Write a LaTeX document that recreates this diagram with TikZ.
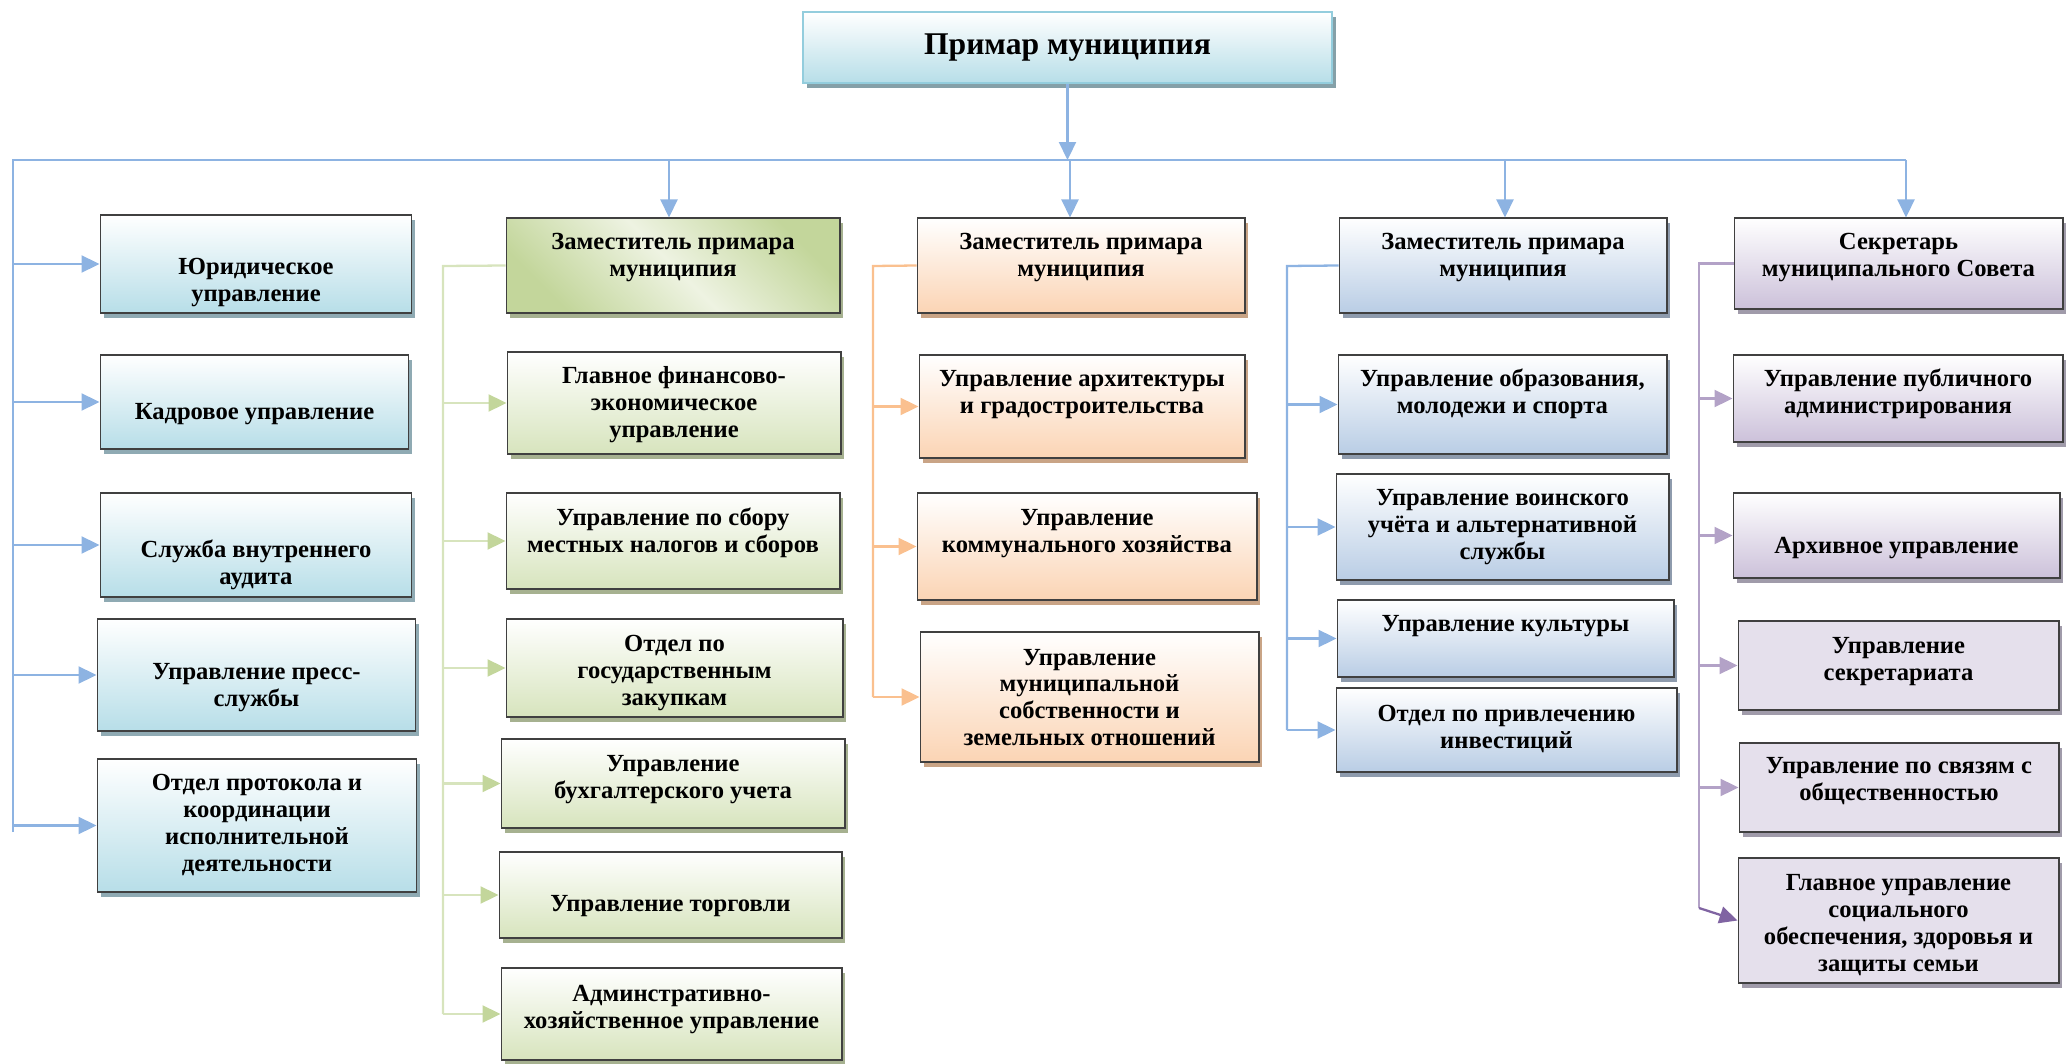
\documentclass[tikz,border=0pt]{standalone}
\usepackage{fontspec}
\setmainfont{Liberation Serif}
\usetikzlibrary{arrows.meta}
\usetikzlibrary{shadows}

\definecolor{lblue}{HTML}{B7DEE8}
\definecolor{lgreen}{HTML}{D7E4BD}
\definecolor{dgreen}{HTML}{C3D69B}
\definecolor{wgreen}{HTML}{EEF3E2}
\definecolor{lorange}{HTML}{FBD4B4}
\definecolor{lsteel}{HTML}{B9CDE5}
\definecolor{lpurple}{HTML}{CCC1DA}
\definecolor{ppurple}{HTML}{E5E0EC}
\definecolor{tealline}{HTML}{93CDDD}
\definecolor{cblue}{HTML}{8DB3E2}
\definecolor{corange}{HTML}{FAC08F}
\definecolor{cpurple}{HTML}{B3A2C7}
\definecolor{dpurple}{HTML}{8064A2}
\definecolor{sgray}{HTML}{85A0A8}
\definecolor{saqua}{HTML}{8FAAB3}
\definecolor{sgreen}{HTML}{A6B190}
\definecolor{sorange}{HTML}{C9A486}
\definecolor{ssteel}{HTML}{8E9BAD}
\definecolor{spurple}{HTML}{A09BAA}

% text of a box, lowered or raised inside it
\newcommand{\boxtext}[2]{\raisebox{#1}[\height][\depth]{\begin{tabular}{@{}c@{}}#2\end{tabular}}}

\begin{document}
\begin{tikzpicture}[
      x=0.02cm, y=-0.02cm,
      base_box/.style={draw=black!75, line width=0.6pt, inner sep=0pt, font=\fontsize{14}{15.3}\selectfont\bfseries},
      top_box/.style={draw=tealline, line width=1.5pt, inner sep=0pt, top color=white, bottom color=lblue,
        font=\fontsize{18}{21}\selectfont\bfseries,
        drop shadow={shadow xshift=0.08cm, shadow yshift=-0.1cm, fill=sgray, opacity=1}},
      aqua_box/.style={base_box, top color=white, bottom color=lblue,
        drop shadow={shadow xshift=0.07cm, shadow yshift=-0.1cm, fill=saqua, opacity=1}},
      green_head/.style={base_box, top color=dgreen, bottom color=dgreen, middle color=wgreen, shading angle=-45,
        drop shadow={shadow xshift=0.07cm, shadow yshift=-0.1cm, fill=sgreen, opacity=1}},
      green_box/.style={base_box, top color=white, bottom color=lgreen,
        drop shadow={shadow xshift=0.07cm, shadow yshift=-0.1cm, fill=sgreen, opacity=1}},
      orange_box/.style={base_box, top color=white, bottom color=lorange,
        drop shadow={shadow xshift=0.07cm, shadow yshift=-0.1cm, fill=sorange, opacity=1}},
      steel_box/.style={base_box, top color=white, bottom color=lsteel,
        drop shadow={shadow xshift=0.07cm, shadow yshift=-0.1cm, fill=ssteel, opacity=1}},
      purple_box/.style={base_box, top color=white, bottom color=lpurple,
        drop shadow={shadow xshift=0.07cm, shadow yshift=-0.1cm, fill=spurple, opacity=1}},
      lilac_box/.style={base_box, fill=ppurple,
        drop shadow={shadow xshift=0.07cm, shadow yshift=-0.1cm, fill=spurple, opacity=1}},
      blue_line/.style={cblue, line width=1.3pt},
      blue_arrow/.style={blue_line, -{Triangle[length=0.36cm, width=0.34cm]}},
      green_line/.style={lgreen, line width=1.3pt},
      green_arrow/.style={green_line, -{Triangle[length=0.36cm, width=0.34cm, color=dgreen]}},
      orange_line/.style={corange, line width=1.3pt},
      orange_arrow/.style={orange_line, -{Triangle[length=0.36cm, width=0.34cm]}},
      purple_line/.style={cpurple, line width=1.3pt},
      purple_arrow/.style={purple_line, -{Triangle[length=0.36cm, width=0.34cm]}}
    ]

    \useasboundingbox (0,0) rectangle (2067,1064);

    % ------------------------------------------------------------------ %
    % Head of the municipality
    % ------------------------------------------------------------------ %

    \node[top_box, minimum width=10.58cm, minimum height=1.42cm] (primar) at (1067.5,47.5) {\boxtext{0cm}{Примар муниципия}};

    % ------------------------------------------------------------------ %
    % Boxes
    % ------------------------------------------------------------------ %

    % directly under the head
    \node[aqua_box, minimum width=6.24cm, minimum height=1.96cm] (jur) at (256,264) {\boxtext{-0.38cm}{Юридическое\\управление}};
    \node[aqua_box, minimum width=6.18cm, minimum height=1.88cm] (kadr) at (254.5,402) {\boxtext{-0.25cm}{Кадровое управление}};
    \node[aqua_box, minimum width=6.24cm, minimum height=2.08cm] (audit) at (256,545) {\boxtext{-0.41cm}{Служба внутреннего\\аудита}};
    \node[aqua_box, minimum width=6.38cm, minimum height=2.24cm] (press) at (256.5,675) {\boxtext{-0.26cm}{Управление пресс-\\службы}};
    \node[aqua_box, minimum width=6.40cm, minimum height=2.66cm] (prot) at (257,825.5) {\boxtext{0cm}{Отдел протокола и\\координации\\исполнительной\\деятельности}};

    % first deputy
    \node[green_head, minimum width=6.68cm, minimum height=1.90cm] (dep1) at (673,265.5) {\boxtext{0.15cm}{Заместитель примара\\муниципия}};
    \node[green_box, minimum width=6.68cm, minimum height=2.04cm] (fin) at (674,403) {\boxtext{-0.05cm}{Главное финансово-\\экономическое\\управление}};
    \node[green_box, minimum width=6.68cm, minimum height=1.92cm] (tax) at (673,541) {\boxtext{0.15cm}{Управление по сбору\\местных налогов и сборов}};
    \node[green_box, minimum width=6.74cm, minimum height=1.96cm] (buy) at (674.5,668) {\boxtext{-0.11cm}{Отдел по\\государственным\\закупкам}};
    \node[green_box, minimum width=6.88cm, minimum height=1.78cm] (acc) at (673,783.5) {\boxtext{0.08cm}{Управление\\бухгалтерского учета}};
    \node[green_box, minimum width=6.86cm, minimum height=1.72cm] (trade) at (670.5,895) {\boxtext{-0.23cm}{Управление торговли}};
    \node[green_box, minimum width=6.82cm, minimum height=1.84cm] (adm) at (671.5,1014) {\boxtext{0.08cm}{Админстративно-\\хозяйственное управление}};

    % second deputy
    \node[orange_box, minimum width=6.56cm, minimum height=1.90cm] (dep2) at (1081,265.5) {\boxtext{0.15cm}{Заместитель примара\\муниципия}};
    \node[orange_box, minimum width=6.52cm, minimum height=2.06cm] (arch) at (1082,406.5) {\boxtext{0.23cm}{Управление архитектуры\\и градостроительства}};
    \node[orange_box, minimum width=6.80cm, minimum height=2.14cm] (comm) at (1087,546.5) {\boxtext{0.26cm}{Управление\\коммунального хозяйства}};
    \node[orange_box, minimum width=6.78cm, minimum height=2.60cm] (prop) at (1089.5,697) {\boxtext{-0.06cm}{Управление\\муниципальной\\собственности и\\земельных отношений}};

    % third deputy
    \node[steel_box, minimum width=6.56cm, minimum height=1.90cm] (dep3) at (1503,265.5) {\boxtext{0.15cm}{Заместитель примара\\муниципия}};
    \node[steel_box, minimum width=6.58cm, minimum height=1.98cm] (edu) at (1502.5,404.5) {\boxtext{0.19cm}{Управление образования,\\молодежи и спорта}};
    \node[steel_box, minimum width=6.66cm, minimum height=2.12cm] (army) at (1502.5,527) {\boxtext{0cm}{Управление воинского\\учёта и альтернативной\\службы}};
    \node[steel_box, minimum width=6.74cm, minimum height=1.54cm] (cult) at (1505.5,638.5) {\boxtext{0.24cm}{Управление культуры}};
    \node[steel_box, minimum width=6.82cm, minimum height=1.68cm] (inv) at (1506.5,730) {\boxtext{0cm}{Отдел по привлечению\\инвестиций}};

    % secretary of the council
    \node[purple_box, minimum width=6.58cm, minimum height=1.82cm] (secr) at (1898.5,263.5) {\boxtext{0.11cm}{Секретарь\\муниципального Совета}};
    \node[purple_box, minimum width=6.60cm, minimum height=1.74cm] (pub) at (1898,398.5) {\boxtext{0.07cm}{Управление публичного\\администрирования}};
    \node[purple_box, minimum width=6.54cm, minimum height=1.70cm] (arh) at (1896.5,535.5) {\boxtext{-0.25cm}{Архивное управление}};
    \node[lilac_box, minimum width=6.42cm, minimum height=1.78cm] (office) at (1898.5,665.5) {\boxtext{0.08cm}{Управление\\секретариата}};
    \node[lilac_box, minimum width=6.40cm, minimum height=1.78cm] (pr) at (1899,787.5) {\boxtext{0.11cm}{Управление по связям с\\общественностью}};
    \node[lilac_box, minimum width=6.42cm, minimum height=2.50cm] (soc) at (1898.5,920.5) {\boxtext{-0.1cm}{Главное управление\\социального\\обеспечения, здоровья и\\защиты семьи}};

    % ------------------------------------------------------------------ %
    % Connectors
    % ------------------------------------------------------------------ %

    \coordinate (busL) at (13,160);
    \coordinate (lend) at (13,832);
    \coordinate (a1) at (669,160);
    \coordinate (a2) at (1070,160);
    \coordinate (a3) at (1505,160);
    \coordinate (a4) at (1906,160);
    \coordinate (gx) at (443,266);
    \coordinate (ox) at (873,266);
    \coordinate (bx) at (1287,266);
    \coordinate (pend) at (1699,908);

    % main bus
    \draw[blue_line] (lend) -- (busL) -- (a4);
    \draw[blue_arrow] (primar.south) -- (primar.south |- busL);
    \draw[blue_arrow] (a1) -- (a1 |- dep1.north);
    \draw[blue_arrow] (a2) -- (a2 |- dep2.north);
    \draw[blue_arrow] (a3) -- (a3 |- dep3.north);
    \draw[blue_arrow] (a4) -- (a4 |- secr.north);
    \foreach \n in {jur,kadr,audit,press,prot}
      \draw[blue_arrow] (busL |- \n.west) -- (\n.west);

    % first deputy
    \draw[green_line] (dep1.west) -- (gx) -- (gx |- adm.west);
    \foreach \n in {fin,tax,buy,acc,trade,adm}
      \draw[green_arrow] (gx |- \n.west) -- (\n.west);

    % second deputy
    \draw[orange_line] (dep2.west) -- (ox) -- (ox |- prop.west);
    \foreach \n in {arch,comm,prop}
      \draw[orange_arrow] (ox |- \n.west) -- (\n.west);

    % third deputy
    \draw[blue_line] (dep3.west) -- (bx) -- (bx |- inv.west);
    \foreach \n in {edu,army,cult,inv}
      \draw[blue_arrow] (bx |- \n.west) -- (\n.west);

    % secretary
    \draw[purple_line] (secr.west) -- (secr.west -| pend) -- (pend);
    \foreach \n in {pub,arh,office,pr}
      \draw[purple_arrow] (pend |- \n.west) -- (\n.west);
    \draw[purple_arrow, dpurple] (pend) -- (soc.west);

\end{tikzpicture}
\end{document}
